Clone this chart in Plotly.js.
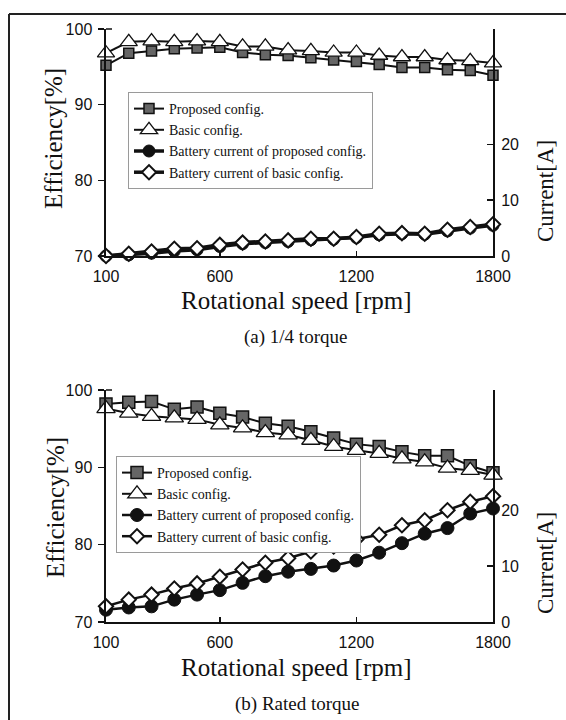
<!DOCTYPE html>
<html>
<head>
<meta charset="utf-8">
<script src="https://cdn.plot.ly/plotly-3.0.1.min.js"></script>
<style>html,body{margin:0;padding:0;background:#fff;}#chart{width:566px;height:720px;}</style>
</head>
<body>
<div id="chart"></div>
<script>
// ---- data ----
const rpm = [100,200,300,400,500,600,700,800,900,1000,1100,1200,1300,1400,1500,1600,1700,1800];
const xTicks = [100,600,1200,1800];
const effTicks = [70,80,90,100];
const curTicks = [0,10,20];
const seriesNames = ["Proposed config.","Basic config.","Battery current of proposed config.","Battery current of basic config."];

// (a) 1/4 torque
const effProposedA = [95.2,96.8,97.1,97.4,97.5,97.6,96.9,96.6,96.5,96.2,95.9,95.7,95.3,94.9,94.9,94.6,94.5,93.9];
const effBasicA    = [96.8,98.3,98.4,98.3,98.4,98.3,97.7,97.7,97.2,97.1,96.9,96.9,96.5,96.3,96.3,95.9,95.8,95.5];
const curProposedA = [0.0,0.2,0.5,0.9,1.1,1.7,2.2,2.4,2.6,2.9,3.0,3.3,3.8,4.0,3.9,4.5,5.0,5.5];
const curBasicA    = [0.0,0.4,0.8,1.3,1.4,2.0,2.4,2.6,2.8,3.1,3.1,3.4,4.0,4.1,4.0,4.7,5.2,5.7];

// (b) Rated torque
const effProposedB = [98.2,98.4,98.5,97.5,97.8,97.0,96.5,95.7,95.3,94.6,93.8,93.0,92.7,92.0,91.5,91.5,90.2,89.3];
const effBasicB    = [97.6,97.0,96.6,96.4,96.2,95.5,95.1,94.5,94.2,93.5,92.7,92.2,91.8,91.1,90.7,89.9,89.6,89.0];
const curProposedB = [2.2,2.6,2.8,4.0,4.9,5.7,7.0,8.2,9.0,9.5,10.1,11.0,12.4,14.1,15.8,16.8,19.4,20.3];
const curBasicB    = [2.8,4.0,4.9,6.0,6.9,8.1,9.4,10.6,11.4,12.6,13.5,14.8,15.6,17.3,18.2,20.0,21.5,22.5];

const titles = {x:"Rotational speed [rpm]", yl:"Efficiency[%]", yr:"Current[A]", a:"(a) 1/4 torque", b:"(b) Rated torque"};

// ---- styles ----
const BLK = "#111111";
const sq = (s)=>({symbol:"square", size:s, color:"#666666", line:{color:BLK, width:1.5}});
const tri = (s)=>({symbol:"triangle-up", size:s, color:"#ffffff", line:{color:BLK, width:1.3}});
const cir = (s)=>({symbol:"circle", size:s, color:BLK, line:{color:BLK, width:1}});
const dia = (s)=>({symbol:"diamond", size:s, color:"#ffffff", line:{color:BLK, width:2}});

function tr(y, name, xa, ya, marker, lw, leg){
  return {x:rpm, y:y, name:name, xaxis:xa, yaxis:ya, type:"scatter", mode:"lines+markers",
          line:{color:BLK, width:lw}, marker:marker, cliponaxis:false, legend:leg, showlegend:true};
}

const data = [
  tr(effProposedA, seriesNames[0], "x", "y", sq(10), 2, "legend"),
  tr(effBasicA, seriesNames[1], "x", "y", tri(15), 2, "legend"),
  tr(curProposedA, seriesNames[2], "x", "y2", cir(12), 3.5, "legend"),
  tr(curBasicA, seriesNames[3], "x", "y2", dia(11), 3.5, "legend"),
  tr(effProposedB, seriesNames[0], "x2", "y3", sq(12), 2, "legend2"),
  tr(effBasicB, seriesNames[1], "x2", "y3", tri(16), 2, "legend2"),
  tr(curProposedB, seriesNames[2], "x2", "y4", cir(13), 2.5, "legend2"),
  tr(curBasicB, seriesNames[3], "x2", "y4", dia(11), 2.5, "legend2")
];

const tickFont = {family:"Liberation Sans, Arial, sans-serif", size:16, color:BLK};
const xCommon = {range:[100,1800], tickmode:"array", tickvals:xTicks, ticktext:xTicks.map(String),
  ticks:"inside", ticklen:5, tickwidth:1.5, tickcolor:BLK, showline:true, linecolor:BLK, linewidth:2,
  showgrid:false, zeroline:false, tickfont:tickFont, ticklabelstandoff:5, fixedrange:true};
const yLeft = {range:[70,100], tickmode:"array", tickvals:effTicks, ticks:"outside", ticklen:6, tickwidth:1.5,
  tickcolor:BLK, showline:true, linecolor:BLK, linewidth:2.5, showgrid:false, zeroline:false, tickfont:tickFont,
  ticklabelstandoff:2, fixedrange:true};
const yRight = {tickmode:"array", tickvals:curTicks, ticks:"inside", ticklen:6, tickwidth:1.5, tickcolor:BLK,
  showline:true, linecolor:BLK, linewidth:2, showgrid:false, zeroline:false, tickfont:tickFont, side:"right",
  ticklabelstandoff:3, fixedrange:true};

// pixel helpers (plot area: x 106..493, y 29..622)
const L=106, R=73, T=29, B=98, W=566, H=720;
const PW=W-L-R, PH=H-T-B;
const px = (p)=>(p-L)/PW;
const py = (p)=>(H-B-p)/PH;

const serif = {family:"Liberation Serif, Times New Roman, serif", color:BLK};
function ann(text, x, y, size, angle){
  return {text:text, xref:"paper", yref:"paper", x:px(x), y:py(y), xanchor:"center", yanchor:"middle",
          showarrow:false, textangle:angle||0, font:Object.assign({size:size}, serif)};
}

const legendCommon = {bgcolor:"#ffffff", bordercolor:"#9a9a9a", borderwidth:1,
  font:{family:"Liberation Serif, Times New Roman, serif", size:14, color:BLK},
  xanchor:"left", yanchor:"top", tracegroupgap:0, itemwidth:30};

const layout = {
  width:W, height:H, margin:{l:L, r:R, t:T, b:B, pad:0},
  paper_bgcolor:"#ffffff", plot_bgcolor:"#ffffff",
  xaxis:Object.assign({}, xCommon, {domain:[0,1], anchor:"y"}),
  yaxis:Object.assign({}, yLeft, {domain:[py(256),1], anchor:"x"}),
  yaxis2:Object.assign({}, yRight, {range:[0,40.7], overlaying:"y", anchor:"x"}),
  xaxis2:Object.assign({}, xCommon, {domain:[0,1], anchor:"y3"}),
  yaxis3:Object.assign({}, yLeft, {domain:[0,py(390)], anchor:"x2"}),
  yaxis4:Object.assign({}, yRight, {range:[0,41.5], overlaying:"y3", anchor:"x2"}),
  legend:Object.assign({}, legendCommon, {x:px(128), y:py(92)}),
  legend2:Object.assign({}, legendCommon, {x:px(116), y:py(456)}),
  showlegend:true,
  annotations:[
    ann(titles.yl, 53, 139, 25, -90),
    ann(titles.yr, 545, 191, 23, -90),
    ann(titles.x, 296, 301, 25),
    ann(titles.a, 295, 337, 19),
    ann(titles.yl, 55, 507, 25, -90),
    ann(titles.yr, 545, 563, 23, -90),
    ann(titles.x, 296, 667, 25),
    ann(titles.b, 297, 704, 19)
  ],
  shapes:[
    {type:"line", xref:"paper", yref:"paper", x0:px(9), x1:px(566), y0:py(14), y1:py(14), line:{color:"#222", width:2}},
    {type:"line", xref:"paper", yref:"paper", x0:px(9), x1:px(9), y0:py(14), y1:py(720), line:{color:"#222", width:2}},
    {type:"line", xref:"paper", yref:"paper", x0:px(106), x1:px(112), y0:py(29), y1:py(29), line:{color:BLK, width:1.5}},
    {type:"line", xref:"paper", yref:"paper", x0:px(106), x1:px(112), y0:py(390), y1:py(390), line:{color:BLK, width:1.5}}
  ]
};

Plotly.newPlot("chart", data, layout, {staticPlot:true, displayModeBar:false});
</script>
</body>
</html>
